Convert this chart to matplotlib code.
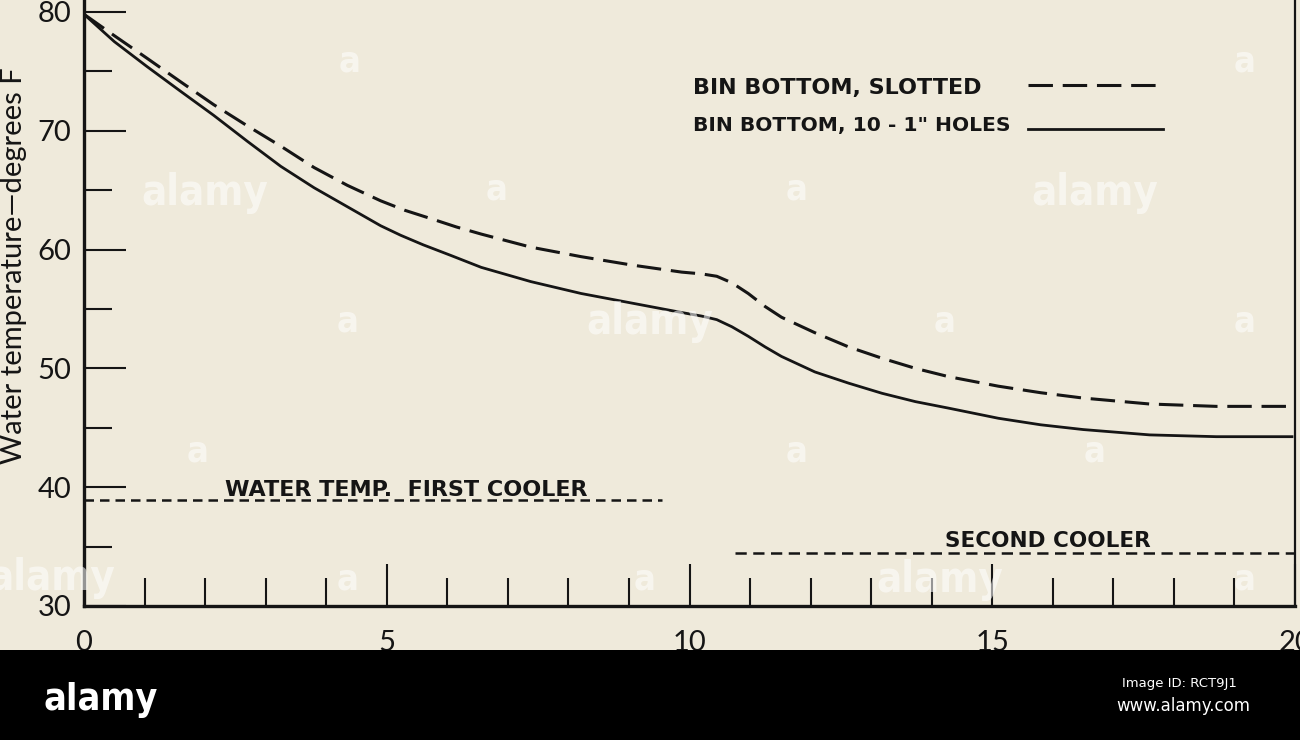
import matplotlib
matplotlib.use("Agg")
import matplotlib.pyplot as plt
from matplotlib.patches import Rectangle

# ---- data ----
x_slotted = [0, 0.5, 1.04, 1.6, 2.14, 2.7, 3.25, 3.8, 4.35, 4.9, 5.3, 5.73, 6.15,
             6.56, 7.38, 8.21, 9.04, 9.87, 10.2, 10.45, 10.7, 10.97, 11.25, 11.52,
             12.07, 12.63, 13.18, 13.73, 14.28, 15.1, 15.8, 16.5, 17.6, 18.7, 19.95]
t_slotted = [79.8, 78.0, 76.1, 74.1, 72.2, 70.4, 68.7, 66.9, 65.4, 64.1, 63.3, 62.6, 61.9,
             61.3, 60.2, 59.4, 58.7, 58.1, 57.95, 57.75, 57.2, 56.3, 55.2, 54.3,
             53.0, 51.8, 50.85, 50.0, 49.3, 48.5, 47.95, 47.5, 47.0, 46.8, 46.8]

x_holes = [0, 0.5, 1.04, 1.6, 2.14, 2.7, 3.25, 3.8, 4.35, 4.9, 5.23, 5.6, 6.06, 6.56,
           7.38, 8.21, 9.04, 9.87, 10.2, 10.45, 10.7, 10.97, 11.25, 11.52, 12.07,
           12.63, 13.18, 13.73, 14.28, 15.1, 15.8, 16.5, 17.6, 18.7, 19.95]
t_holes = [79.8, 77.5, 75.4, 73.3, 71.3, 69.1, 67.0, 65.2, 63.6, 62.0, 61.2, 60.4, 59.5, 58.5,
           57.3, 56.3, 55.5, 54.7, 54.4, 54.1, 53.5, 52.7, 51.8, 51.0, 49.7,
           48.75, 47.9, 47.2, 46.65, 45.8, 45.25, 44.85, 44.4, 44.25, 44.25]

x_first_cooler = [0, 9.55]
t_first_cooler = [38.9, 38.9]
x_second_cooler = [10.75, 20]
t_second_cooler = [34.5, 34.5]

label_slotted = "BIN BOTTOM, SLOTTED"
label_holes = 'BIN BOTTOM, 10 - 1" HOLES'
label_first = "WATER TEMP.  FIRST COOLER"
label_second = "SECOND COOLER"
ylabel = "Water temperature\u2014degrees F"
x_major = [0, 5, 10, 15, 20]
y_major = [30, 40, 50, 60, 70, 80]

# ---- style ----
BG = "#efeadb"
INK = "#151515"
W, H = 1300, 740

fig = plt.figure(figsize=(13, 7.4), dpi=100, facecolor=BG)
ax = fig.add_axes([84 / W, (H - 606) / H, (1295 - 84) / W, 606 / H])
ax.set_facecolor(BG)
ax.set_xlim(0, 20)
ax.set_ylim(30, 81.0)

num_family = ["Lato", "DejaVu Sans"]
letter_font = dict(family=["DejaVu Sans"], weight="bold")

# curves
l_slot, = ax.plot(x_slotted, t_slotted, color=INK, lw=2.2,
                  linestyle=(0, (8.0, 3.2)), solid_capstyle="butt")
l_hole, = ax.plot(x_holes, t_holes, color=INK, lw=2.0)
ax.plot(x_first_cooler, t_first_cooler, color=INK, lw=1.8,
        linestyle=(0, (3.8, 2.4)))
ax.plot(x_second_cooler, t_second_cooler, color=INK, lw=1.8,
        linestyle=(0, (4.5, 2.6)))

# spines
for s in ["left", "bottom"]:
    ax.spines[s].set_linewidth(2.4)
    ax.spines[s].set_color(INK)
ax.spines["right"].set_linewidth(1.6)
ax.spines["right"].set_color(INK)
ax.spines["top"].set_visible(False)

# ticks
ax.set_xticks(x_major)
ax.set_xticks(range(1, 20), minor=True)
ax.set_yticks(y_major)
ax.set_yticks([35, 45, 55, 65, 75], minor=True)
ax.tick_params(axis="both", which="major", direction="in", length=30, width=1.5,
               color=INK, labelcolor=INK)
ax.tick_params(axis="both", which="minor", direction="in", length=20, width=1.5,
               color=INK)
ax.tick_params(axis="y", which="major", pad=9)
ax.tick_params(axis="x", which="major", pad=17)
for lab in ax.get_xticklabels() + ax.get_yticklabels():
    lab.set_fontfamily(num_family)
    lab.set_fontsize(21)

# y label
fig.text(14 / W, 1 - 266 / H, ylabel, rotation=90,
         ha="center", va="center", fontsize=21, color=INK, family=num_family)

# legend: key lines via legend, labels as text
ax.legend([l_slot, l_hole], ["", ""], loc="upper left",
          bbox_to_anchor=((1028 - 84) / 1211, 1 - 73 / 606),
          frameon=False, handlelength=4.85, fontsize=20,
          labelspacing=0.55, handletextpad=0, borderpad=0, borderaxespad=0)
ax.text((693 - 84) / 1211, 1 - 88 / 606, label_slotted, transform=ax.transAxes,
        ha="left", va="center", fontsize=16, color=INK, **letter_font)
ax.text((693 - 84) / 1211, 1 - 126 / 606, label_holes, transform=ax.transAxes,
        ha="left", va="center", fontsize=14.6, color=INK, **letter_font)

# cooler annotations
ax.text(5.33, 39.25, label_first, ha="center", va="baseline",
        fontsize=16, color=INK, **letter_font)
ax.text(15.92, 34.95, label_second, ha="center", va="baseline",
        fontsize=15.5, color=INK, **letter_font)

# faint watermarks
wm = dict(color="white", alpha=0.55, ha="center", va="center",
          family=["DejaVu Sans"], weight="bold", fontstretch="condensed")
for (px, py) in [(205, 193), (650, 322), (1095, 193), (940, 580), (52, 578)]:
    fig.text(px / W, 1 - py / H, "alamy", fontsize=30, **wm)
for (px, py) in [(350, 62), (1245, 62), (497, 190), (797, 190), (348, 322),
                 (945, 322), (1245, 322), (198, 452), (797, 452), (1095, 452),
                 (348, 580), (645, 580), (1245, 580)]:
    fig.text(px / W, 1 - py / H, "a", fontsize=26, **wm)

# bottom banner
fig.patches.append(Rectangle((0, 0), 1, 90 / H, transform=fig.transFigure,
                             facecolor="black", edgecolor="none", zorder=10))
fig.text(101 / W, 1 - 700 / H, "alamy", color="white", fontsize=27,
         weight="bold", ha="center", va="center", fontstretch="condensed",
         family=["DejaVu Sans"], zorder=11)
fig.text(1237 / W, 1 - 683 / H, "Image ID: RCT9J1", color="white", fontsize=9.5,
         ha="right", va="center", family=["DejaVu Sans"], zorder=11)
fig.text(1250 / W, 1 - 706 / H, "www.alamy.com", color="white", fontsize=12,
         ha="right", va="center", family=["DejaVu Sans"], zorder=11)

fig.savefig("out.png", dpi=100, facecolor=BG)
